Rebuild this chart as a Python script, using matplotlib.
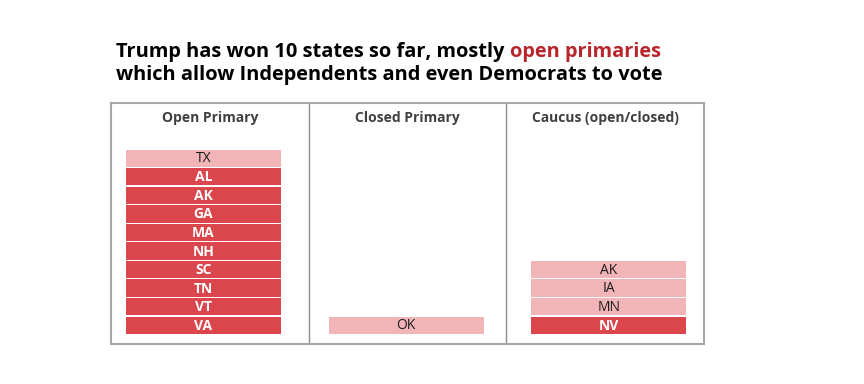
import matplotlib
matplotlib.use("Agg")
import matplotlib.pyplot as plt

# ---- data ----
columns = ["Open Primary", "Closed Primary", "Caucus (open/closed)"]
open_states = ["TX", "AL", "AK", "GA", "MA", "NH", "SC", "TN", "VT", "VA"]
open_won = [0, 1, 1, 1, 1, 1, 1, 1, 1, 1]
closed_states = ["OK"]
closed_won = [0]
caucus_states = ["AK", "IA", "MN", "NV"]
caucus_won = [0, 0, 0, 1]

title_1a = "Trump has won 10 states so far, mostly "
title_1b = "open primaries"
title_2 = "which allow Independents and even Democrats to vote"

DARK = "#DA464B"
LIGHT = "#F1B5B8"
TITLE_RED = "#B8262C"
BORDER = "#A6A6A6"

plt.rcParams['font.family'] = ['Open Sans', 'DejaVu Sans']

fig = plt.figure(figsize=(8.64, 3.84), dpi=100)
ax = fig.add_axes([111/864, 40.5/384, 593/864, 240.5/384])
ax.set_xlim(0, 3)
ax.set_ylim(-0.49, 12.48)
ax.set_xticks([])
ax.set_yticks([])
for s in ax.spines.values():
    s.set_color(BORDER)
    s.set_linewidth(1.5)

for i in (1, 2):
    ax.axvline(i, color="#8C8C8C", lw=1.0)

groups = [(open_states, open_won), (closed_states, closed_won), (caucus_states, caucus_won)]
col_px = 593/3
bar_left = [15/col_px, 1 + 20/col_px, 2 + 25/col_px]
bar_w = 155/col_px
for ci, (states, won) in enumerate(groups):
    n = len(states)
    for k, (st, w) in enumerate(zip(states, won)):
        y = n - 1 - k
        ax.barh(y + 0.5, bar_w, left=bar_left[ci], height=0.93,
                color=DARK if w else LIGHT, edgecolor="none")
        ax.text(bar_left[ci] + bar_w/2, y + 0.47, st, ha="center", va="center",
                fontsize=10, color="white" if w else "#1a1a1a",
                fontweight="bold" if w else "normal")
    ax.text(ci + 0.5, 11.67, columns[ci], ha="center", va="center",
            fontsize=10, fontweight="bold", color="#404040")

t1 = fig.text(116/864, 1 - 52/384, title_1a, fontsize=14.4, fontweight="bold",
              color="black", va="center", ha="left")
ax.annotate(title_1b, xy=(1, 0), xycoords=t1, va="bottom", ha="left",
            fontsize=14.4, fontweight="bold", color=TITLE_RED)
fig.text(116/864, 1 - 75/384, title_2, fontsize=14.4, fontweight="bold",
         color="black", va="center", ha="left")

fig.savefig("out.png", dpi=100, facecolor="white")
